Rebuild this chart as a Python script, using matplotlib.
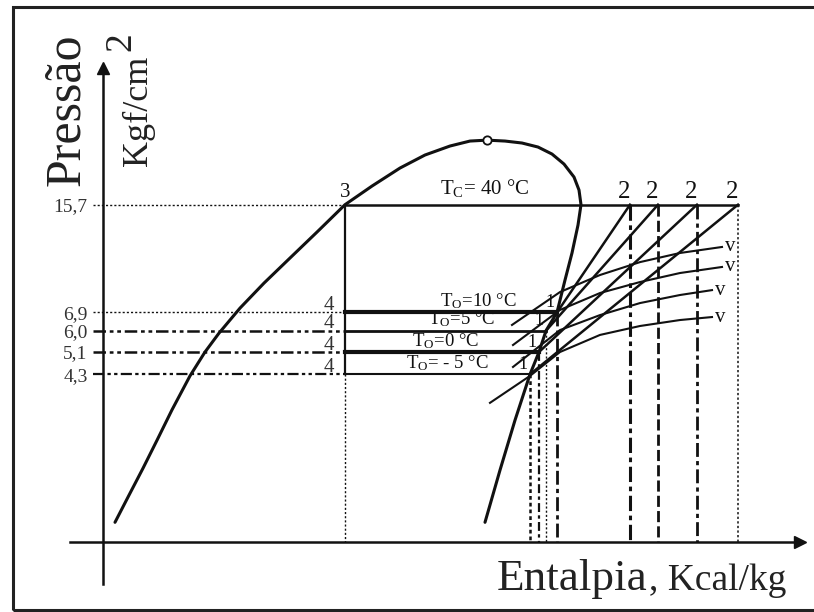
import numpy as np
import matplotlib
matplotlib.use('Agg')
import matplotlib.pyplot as plt
from matplotlib.patches import Rectangle
from matplotlib.ticker import NullLocator

plt.rcParams['font.family'] = ['Liberation Serif', 'DejaVu Serif']
plt.rcParams['mathtext.default'] = 'regular'

# Pressures (kgf/cm2)
p_cond = 15.7
p_evap = [6.9, 6.0, 5.1, 4.3]
p_ticklabels = ['15,7', '6,9', '6,0', '5,1', '4,3']
evap_labels = ['T$_O$=10 °C', 'T$_O$=5 °C', 'T$_O$=0 °C', 'T$_O$= - 5 °C']
cond_label = 'T$_C$= 40 °C'

# Enthalpy (arbitrary units, schematic)
h3 = 345                      # liquid leaving condenser / point 4
h1 = [557, 546, 539, 530]     # saturated vapour at each evap. pressure
h2 = [630, 658, 697, 738]     # end of compression

# saturation dome
dome_h = [115, 129, 143, 157, 172, 190, 205, 219, 240, 264, 290, 317, 345, 372, 400,
          425, 450, 470, 487, 505, 522, 538, 552, 564, 574, 579, 581, 578, 572, 565,
          557, 546, 539, 530, 515, 500, 485]
dome_p = [1.39, 1.71, 2.10, 2.60, 3.28, 4.25, 5.10, 5.89, 7.13, 8.63, 10.45, 12.74, 15.7, 18.10, 20.77,
          22.94, 24.57, 25.52, 25.7, 25.52, 25.14, 24.38, 23.11, 21.41, 19.39, 17.56, 15.7, 13.44, 10.86, 8.83,
          6.9, 6.0, 5.1, 4.3, 3.03, 2.07, 1.39]
crit_h, crit_p = 487, 25.7

# constant specific volume curves
v_h = [[512, 560, 600, 640, 680, 722],
       [513, 560, 600, 640, 680, 722],
       [513, 560, 600, 640, 680, 712],
       [490, 530, 560, 600, 640, 680, 712]]
v_p = [[6.27, 8.06, 9.18, 10.13, 10.86, 11.37],
       [5.38, 7.03, 8.00, 8.70, 9.32, 9.76],
       [4.55, 6.03, 6.76, 7.41, 7.88, 8.18],
       [3.46, 4.25, 5.10, 5.81, 6.22, 6.51, 6.66]]

K = '#111111'
p_axis = 1.196   # where the enthalpy axis crosses
h_axis = 103     # where the pressure axis crosses
h_left = 93      # start of the dotted guide lines

fig = plt.figure(figsize=(8.14, 6.12), dpi=100)
ax = fig.add_axes([70/814, 28/612, 730/814, 516/612])
ax.set_yscale('log')
ax.set_xlim(70, 800)
ax.set_ylim(0.868, 44.57)

# axes as crossing arrows
for s in ['top', 'right']:
    ax.spines[s].set_visible(False)
ax.spines['left'].set_position(('data', h_axis))
ax.spines['bottom'].set_position(('data', p_axis))
for s in ['left', 'bottom']:
    ax.spines[s].set_linewidth(1.8)
    ax.spines[s].set_color(K)
ax.plot(1, p_axis, '>', color=K, ms=9, transform=ax.get_yaxis_transform(), clip_on=False)
ax.plot(h_axis, 1, '^', color=K, ms=9, transform=ax.get_xaxis_transform(), clip_on=False)

ax.set_xticks([])
ax.yaxis.set_minor_locator(NullLocator())
ax.set_yticks([p_cond] + p_evap, labels=p_ticklabels)
ax.tick_params(axis='y', length=0, pad=11, labelsize=14, labelcolor='#333333')

# dome
ax.plot(dome_h, dome_p, color=K, lw=2.2, solid_capstyle='round', solid_joinstyle='round')
ax.plot(crit_h, crit_p, 'o', ms=6, mfc='white', mec=K, mew=1.3, zorder=5)

# condenser line and guides
ax.plot([h3, h2[-1]], [p_cond, p_cond], color=K, lw=1.8)
ax.plot([h_left, h3], [p_cond, p_cond], color=K, lw=1.0, ls=(0, (1.5, 1.5)))
ax.plot([h3, h3], [p_cond, p_evap[-1]], color=K, lw=1.6)
ax.plot([h3, h3], [p_evap[-1], p_axis], color=K, lw=1.0, ls=(0, (1.5, 1.5)))

# evaporator lines
evap_lw = [3.0, 2.0, 3.0, 1.5]
guide_ls = [(0, (1.5, 1.5)), (0, (5, 1.5, 1.5, 1.5, 1.5, 1.5)),
            (0, (5, 1.5, 1.5, 1.5, 1.5, 1.5)), (0, (5, 1.5, 1.5, 1.5, 1.5, 1.5))]
guide_lw = [1.0, 1.8, 1.8, 1.6]
for p, x1, lw, ls, glw in zip(p_evap, h1, evap_lw, guide_ls, guide_lw):
    ax.plot([h3, x1], [p, p], color=K, lw=lw)
    ax.plot([h_left, h3], [p, p], color=K, lw=glw, ls=ls)

# compression lines 1 -> 2
for x1, p, x2 in zip(h1, p_evap, h2):
    ax.plot([x1, x2], [p, p_cond], color=K, lw=1.8)

# specific volume curves
for hh, pp in zip(v_h, v_p):
    ax.plot(hh, pp, color=K, lw=1.5)
    ax.annotate('v', xy=(hh[-1], pp[-1]), xytext=(2, 0), textcoords='offset points',
                ha='left', va='center', fontsize=15, color=K)

# vertical projections onto the enthalpy axis
v1_ls = [(0, (5, 1.5, 1.5, 1.5)), (0, (1.5, 1.5)), (0, (4, 1.5, 1.5, 1.5)), (0, (1.5, 1.2))]
v1_lw = [2.0, 1.0, 1.6, 1.8]
for x1, p, ls, lw in zip(h1, p_evap, v1_ls, v1_lw):
    ax.plot([x1, x1], [p, p_axis], color=K, lw=lw, ls=ls)
v2_ls = [(0, (5, 1.5, 1.5, 1.5)), (0, (4, 1.5)), (0, (5, 1.5, 1.5, 1.5)), (0, (1.5, 1.5))]
v2_lw = [2.2, 2.0, 2.0, 1.1]
for x2, ls, lw in zip(h2, v2_ls, v2_lw):
    ax.plot([x2, x2], [p_cond, p_axis], color=K, lw=lw, ls=ls)

# point labels
ax.annotate('3', xy=(h3, p_cond), xytext=(0, 2), textcoords='offset points',
            ha='center', va='bottom', fontsize=15, color=K)
for x2 in h2:
    ax.annotate('2', xy=(x2, p_cond), xytext=(-4, 1), textcoords='offset points',
                ha='center', va='bottom', fontsize=18, color=K)
for x1, p in zip(h1, p_evap):
    ax.annotate('1', xy=(x1, p), xytext=(-5, 1), textcoords='offset points',
                ha='center', va='bottom', fontsize=13, color=K)
    ax.annotate('4', xy=(h3, p), xytext=(-8, -2), textcoords='offset points',
                ha='right', va='bottom', fontsize=15, color='#333333')

ax.annotate(cond_label, xy=(485, p_cond), xytext=(0, 4), textcoords='offset points',
            ha='center', va='bottom', fontsize=15, color=K)
for txt, x, p in zip(evap_labels, [478, 462, 446, 447], p_evap):
    ax.annotate(txt, xy=(x, p), xytext=(0, 1), textcoords='offset points',
                ha='center', va='bottom', fontsize=13.5, color=K)

# axis titles
fig.text(67/814, 1 - 110/612, 'Pressão', rotation=90, ha='center', va='center',
         fontsize=36, color='#222222')
fig.text(138/814, 1 - 111/612, 'Kgf/cm', rotation=90, ha='center', va='center',
         fontsize=26, color='#222222')
fig.text(121/814, 1 - 42/612, '2', rotation=90, ha='center', va='center',
         fontsize=27, color='#222222')
fig.text(497/814, 1 - 590/612, 'Entalpia', ha='left', va='baseline',
         fontsize=32.5, color='#222222')
fig.text(649/814, 1 - 590/612, ', Kcal/kg', ha='left', va='baseline',
         fontsize=27, color='#222222')

# outer frame (right side runs off the picture)
fig.add_artist(Rectangle((12.5/814, 1 - 609.5/612), 1.2, (609.5 - 7)/612,
                         transform=fig.transFigure, fill=False, lw=2.2, ec='#222222'))

fig.savefig('out.png', dpi=100)
